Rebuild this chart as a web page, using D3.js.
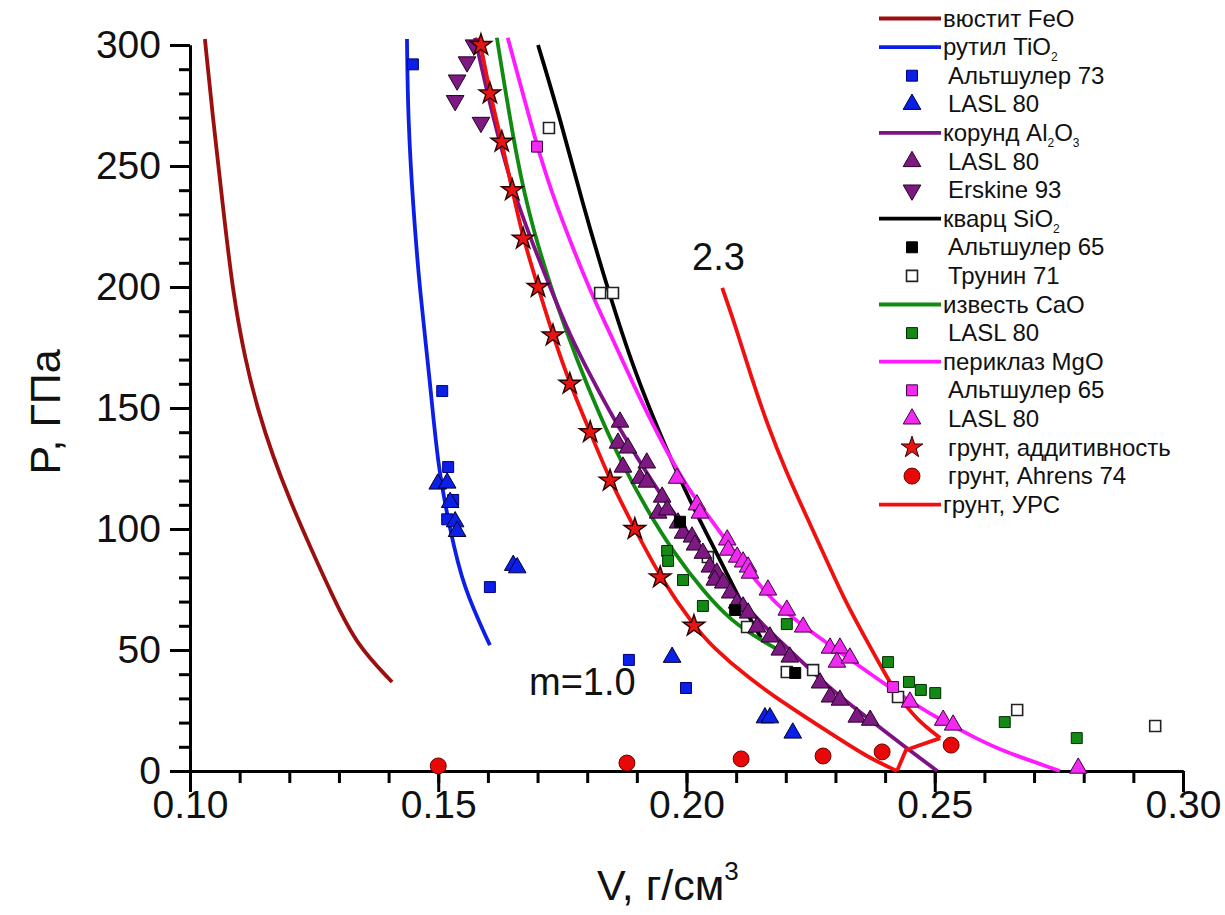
<!DOCTYPE html>
<html>
<head>
<meta charset="utf-8">
<script src="https://cdn.jsdelivr.net/npm/d3@7"></script>
<style>
  body { margin: 0; background: #fff; }
  text { font-family: "Liberation Sans", Arial, sans-serif; }
</style>
</head>
<body>
<script>
// V (cm3/g), P (GPa)
var feoLine = [[0.1030,302.5],[0.1046,270],[0.1066,234],[0.1086,198],[0.1111,170],[0.1137,149],
  [0.1167,130],[0.1201,112],[0.1242,92.6],[0.1290,71],[0.1336,52],[0.1407,36.8]];
var tio2Line = [[0.1437,302.5],[0.1439,270],[0.1449,234],[0.1463,198],[0.1483,162],[0.1499,126],
  [0.1524,99.6],[0.1550,76],[0.1604,52]];
var tio2Alt73 = [[0.1449,292],[0.1508,157],[0.1520,125.6],[0.1518,104],[0.1530,112],[0.1604,76],[0.1884,45.9],[0.1999,34.3]];
var tio2Lasl80 = [[0.1499,118.6],[0.1518,119],[0.1524,111],[0.1534,103],[0.1538,99],[0.1651,85],[0.1659,84],
  [0.1971,47],[0.2158,22],[0.2168,22],[0.2214,15.7]];
var al2o3Line = [[0.1574,303],[0.1610,270],[0.1650,240],[0.1690,218],[0.1725,200],[0.1765,180],
  [0.1810,162],[0.1852,146],[0.1905,128],[0.1955,112],[0.2005,98],[0.2055,84],[0.2108,70.7],
  [0.2160,59],[0.2208,50],[0.2289,34],[0.2364,22],[0.2430,11.6],[0.2505,0]];
var al2o3Lasl80 = [[0.1866,144.2],[0.1862,135.5],[0.1882,133.5],[0.1872,125.6],[0.1920,127.3],[0.1906,121],
  [0.1920,119.4],[0.1951,113.2],[0.1943,106.6],[0.1961,107.9],[0.1983,102.5],[0.1993,98.3],[0.2011,96.7],
  [0.2017,93.4],[0.2033,90],[0.2047,84.3],[0.2061,81.8],[0.2057,78.9],[0.2074,77.7],[0.2088,73.6],
  [0.2102,69.4],[0.2114,67.8],[0.2124,65.3],[0.2142,59.5],[0.2168,55.4],[0.2188,50],[0.2208,47.1],
  [0.2269,36.4],[0.2289,30.6],[0.2309,29.3],[0.2343,22.3],[0.2370,21]];
var al2o3Erskine93 = [[0.1572,300],[0.1558,293],[0.1538,285.5],[0.1534,277],[0.1586,268]];
var sio2Line = [[0.1701,300],[0.1745,270],[0.1790,235],[0.1840,200],[0.1895,165],[0.1955,135],
  [0.2013,109],[0.2061,90],[0.2114,68],[0.2150,55]];
var sio2Alt65 = [[0.1987,103],[0.2098,66.5],[0.2219,40.5]];
var sio2Trunin71 = [[0.1723,265.7],[0.1826,197.5],[0.1852,197.5],[0.2043,88.4],[0.2122,59.5],[0.2202,40.9],
  [0.2255,41.7],[0.2426,30.6],[0.2666,25.2],[0.2944,18.6]];
var caoLine = [[0.1618,303],[0.1659,251],[0.1691,223.5],[0.1735,194.6],[0.1779,170],[0.1825,147],
  [0.1870,127],[0.1920,108],[0.1975,90],[0.2035,74],[0.2090,62],[0.2150,54],[0.2208,47.5]];
var caoLasl80 = [[0.1961,90.9],[0.1963,86.8],[0.1993,78.9],[0.2033,68.2],[0.2202,60.7],[0.2406,45],
  [0.2448,36.8],[0.2472,33.5],[0.2501,32.2],[0.2641,20.2],[0.2786,13.6]];
var mgoLine = [[0.1640,303],[0.1699,258],[0.1731,237],[0.1808,197],[0.1846,181],[0.1892,160],[0.1947,137],
  [0.2001,117],[0.2053,103],[0.2122,83],[0.2188,66.5],[0.2300,50.5],[0.2424,32.2],
  [0.2511,21],[0.2591,12.8],[0.2631,8.7],[0.2752,0]];
var mgoAlt65 = [[0.1699,258],[0.2416,34.7]];
var mgoLasl80 = [[0.1981,121],[0.2021,110],[0.2027,106.6],[0.2082,95.5],[0.2084,91.3],[0.2102,88.4],
  [0.2114,86.4],[0.2124,84.3],[0.2128,81.8],[0.2164,74.8],[0.2202,66.5],[0.2235,59.5],[0.2289,50.8],
  [0.2309,50.8],[0.2303,45],[0.2329,46.7],[0.2450,28.5],[0.2517,21],[0.2537,19],[0.2789,1.2]];
var soilAdditive = [[0.1586,300],[0.1604,280],[0.1628,260],[0.1649,240],[0.1671,220],[0.1701,200],
  [0.1731,180],[0.1765,160],[0.1806,140],[0.1846,120],[0.1896,100],[0.1947,80],[0.2015,60]];
var soilAhrens74 = [[0.150,2.1],[0.188,3.3],[0.211,5],[0.2275,6.2],[0.2394,7.9],[0.2533,10.7]];
var soilUrsM10 = [[0.1580,303],[0.1586,300],[0.1604,280],[0.1628,260],[0.1649,240],[0.1671,220],
  [0.1701,200],[0.1731,180],[0.1765,160],[0.1806,140],[0.1846,120],[0.1896,100],[0.1947,80],
  [0.2015,60],[0.2053,51.2],[0.2122,38.8],[0.2208,26.4],[0.2289,15.7],[0.2364,5.8],[0.2416,0.8],[0.2424,0]];
var soilUrsHook = [[0.2424,0],[0.2442,8.7],[0.2511,13.6]];
var soilUrsM23 = [[0.2511,13.6],[0.2465,21],[0.2430,30],[0.2400,40],[0.2360,55],[0.2320,70],[0.2280,88],
  [0.2240,106],[0.2200,124],[0.2165,142],[0.2130,163],[0.2100,183],[0.2072,199.6]];

var xTicks = [0.10, 0.15, 0.20, 0.25, 0.30];
var yTicks = [0, 50, 100, 150, 200, 250, 300];

var legendItems = [
  {parts: ['вюстит FeO'], kind: 'line', color: '#9b0f0f'},
  {parts: ['рутил TiO', '2'], kind: 'line', color: '#0b1fe6'},
  {parts: ['Альтшулер 73'], kind: 'square', fill: '#0b1fe6', stroke: '#00007a'},
  {parts: ['LASL 80'], kind: 'tri', fill: '#0b1fe6', stroke: '#000030'},
  {parts: ['корунд Al', '2', 'O', '3'], kind: 'line', color: '#7d1285'},
  {parts: ['LASL 80'], kind: 'tri', fill: '#7d1a82', stroke: '#250025'},
  {parts: ['Erskine 93'], kind: 'itri', fill: '#7d1a82', stroke: '#250025'},
  {parts: ['кварц SiO', '2'], kind: 'line', color: '#000'},
  {parts: ['Альтшулер 65'], kind: 'square', fill: '#000', stroke: '#000'},
  {parts: ['Трунин 71'], kind: 'square', fill: '#fff', stroke: '#222'},
  {parts: ['известь CaO'], kind: 'line', color: '#108a10'},
  {parts: ['LASL 80'], kind: 'square', fill: '#138a13', stroke: '#002a00'},
  {parts: ['периклаз MgO'], kind: 'line', color: '#ff1aff'},
  {parts: ['Альтшулер 65'], kind: 'square', fill: '#f02af0', stroke: '#400040'},
  {parts: ['LASL 80'], kind: 'tri', fill: '#f02af0', stroke: '#400040'},
  {parts: ['грунт, аддитивность'], kind: 'star', fill: '#e81414', stroke: '#2a0000'},
  {parts: ['грунт, Ahrens 74'], kind: 'circle', fill: '#e80808', stroke: '#700000'},
  {parts: ['грунт, УРС'], kind: 'line', color: '#f01010'}
];

var svg = d3.select('body').append('svg')
  .attr('width', 1225)
  .attr('height', 915);

var x = d3.scaleLinear().domain([0.10, 0.30]).range([190, 1183]);
var y = d3.scaleLinear().domain([0, 300]).range([771, 45]);

function symbolPath(kind) {
  if (kind == 'square') return d3.symbol(d3.symbolSquare, 120)();
  if (kind == 'tri' || kind == 'itri') return d3.symbol(d3.symbolTriangle, 135)();
  if (kind == 'star') return d3.symbol(d3.symbolStar, 145)();
  return d3.symbol(d3.symbolCircle, 200)();
}

function drawLine(data, color, curve) {
  svg.append('path')
    .datum(data)
    .attr('fill', 'none')
    .attr('stroke', color)
    .attr('stroke-width', 3.8)
    .attr('stroke-linejoin', 'round')
    .attr('d', d3.line()
      .x(function(d) { return x(d[0]); })
      .y(function(d) { return y(d[1]); })
      .curve(curve || d3.curveBasis));
}

function drawPoints(data, item) {
  svg.append('g').selectAll('path')
    .data(data)
    .enter()
    .append('path')
    .attr('d', symbolPath(item.kind))
    .attr('transform', function(d) {
      return 'translate(' + x(d[0]) + ',' + y(d[1]) + ')' + (item.kind == 'itri' ? ' rotate(180)' : '');
    })
    .attr('fill', item.fill)
    .attr('stroke', item.stroke)
    .attr('stroke-width', item.fill == '#fff' ? 1.6 : (item.kind == 'star' ? 1.4 : 1));
}

// axes
var yAxisMinor = d3.axisLeft(y).ticks(30).tickSize(11).tickFormat('').tickSizeOuter(0);
var xAxisMinor = d3.axisBottom(x).ticks(20).tickSize(12).tickFormat('').tickSizeOuter(0);
var yAxis = d3.axisLeft(y).tickValues(yTicks).tickSize(20).tickPadding(9).tickSizeOuter(0);
var xAxis = d3.axisBottom(x).tickValues(xTicks).tickSize(21).tickPadding(-2).tickFormat(d3.format('.2f')).tickSizeOuter(0);

[[yAxisMinor, 'translate(190,0)'], [xAxisMinor, 'translate(0,771)'], [yAxis, 'translate(190,0)'], [xAxis, 'translate(0,771)']]
  .forEach(function(a) {
    var g = svg.append('g').attr('transform', a[1]).call(a[0]);
    g.selectAll('path, line').attr('stroke', '#000').attr('stroke-width', 3);
    g.selectAll('text').attr('fill', '#111').style('font-size', '39px');
  });

// curves
drawLine(feoLine, legendItems[0].color);
drawLine(tio2Line, legendItems[1].color);
drawLine(sio2Line, legendItems[7].color);
drawLine(mgoLine, legendItems[12].color);
drawLine(caoLine, legendItems[10].color);
drawLine(al2o3Line, legendItems[4].color);
drawLine(soilUrsM10, legendItems[17].color);
drawLine(soilUrsHook, legendItems[17].color, d3.curveLinear);
drawLine(soilUrsM23, legendItems[17].color);

// points
drawPoints(tio2Alt73, legendItems[2]);
drawPoints(tio2Lasl80, legendItems[3]);
drawPoints(sio2Trunin71, legendItems[9]);
drawPoints(caoLasl80, legendItems[11]);
drawPoints(mgoAlt65, legendItems[13]);
drawPoints(mgoLasl80, legendItems[14]);
drawPoints(al2o3Lasl80, legendItems[5]);
drawPoints(sio2Alt65, legendItems[8]);
drawPoints(al2o3Erskine93, legendItems[6]);
drawPoints(soilAhrens74, legendItems[16]);
drawPoints(soilAdditive, legendItems[15]);

// curve labels
svg.append('text').attr('x', 529).attr('y', 695).style('font-size', '38px').attr('fill', '#111').text('m=1.0');
svg.append('text').attr('x', 692).attr('y', 270).style('font-size', '38px').attr('fill', '#111').text('2.3');

// axis titles
svg.append('text')
  .attr('transform', 'translate(60,412) rotate(-90)')
  .attr('text-anchor', 'middle')
  .style('font-size', '43px')
  .attr('fill', '#111')
  .text('P, ГПа');
var xt = svg.append('text').attr('x', 597).attr('y', 900).style('font-size', '43px').attr('fill', '#111');
xt.append('tspan').text('V, г/см');
xt.append('tspan').attr('dy', -20).style('font-size', '26px').text('3');

// legend
var legend = svg.append('g').selectAll('g')
  .data(legendItems)
  .enter()
  .append('g')
  .attr('transform', function(d, i) { return 'translate(0,' + (18.5 + i * 28.6) + ')'; });

legend.each(function(d) {
  var g = d3.select(this);
  if (d.kind == 'line') {
    g.append('line').attr('x1', 879).attr('x2', 941).attr('y1', 0).attr('y2', 0)
      .attr('stroke', d.color).attr('stroke-width', 3.8);
  } else {
    g.append('path')
      .attr('d', symbolPath(d.kind))
      .attr('transform', 'translate(912,0)' + (d.kind == 'itri' ? ' rotate(180)' : ''))
      .attr('fill', d.fill)
      .attr('stroke', d.stroke)
      .attr('stroke-width', d.fill == '#fff' ? 1.6 : 1);
  }
  var t = g.append('text').attr('x', d.kind == 'line' ? 943 : 948).attr('y', 8).style('font-size', '24px').attr('fill', '#111');
  d.parts.forEach(function(p, k) {
    if (k % 2 == 0) {
      t.append('tspan').attr('dy', k == 0 ? 0 : -6).style('font-size', '24px').text(p);
    } else {
      t.append('tspan').attr('dy', 6).style('font-size', '12px').text(p);
    }
  });
});
</script>
</body>
</html>
